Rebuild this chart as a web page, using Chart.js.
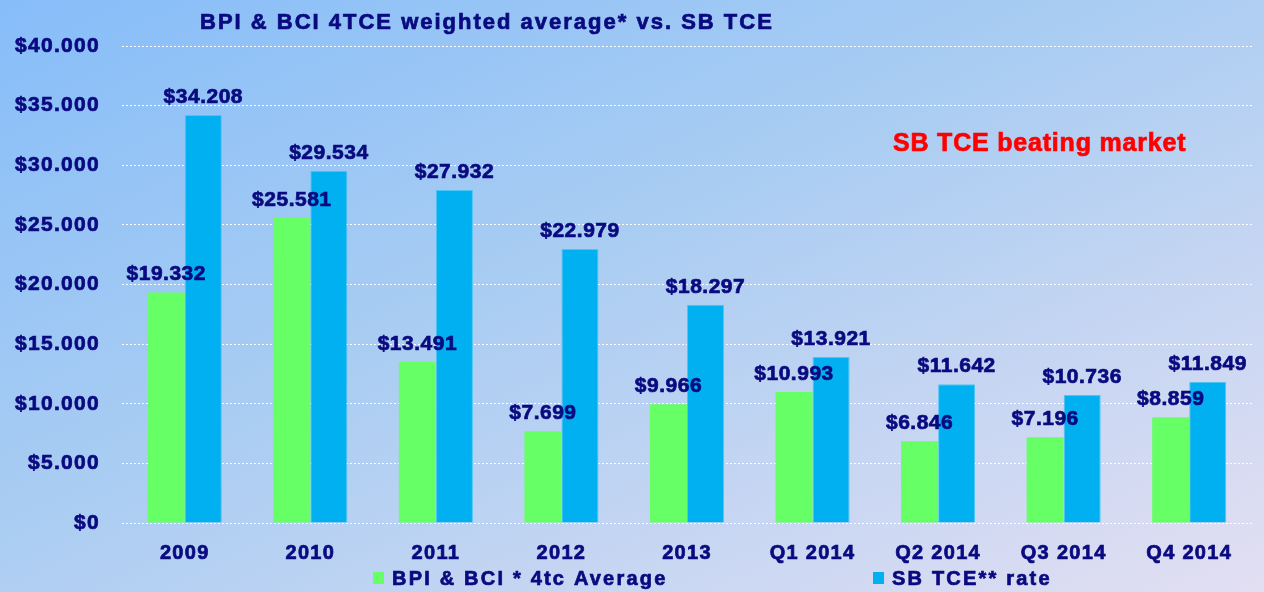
<!DOCTYPE html>
<html>
<head>
<meta charset="utf-8">
<title>BPI & BCI 4TCE vs SB TCE</title>
<script src="https://cdn.jsdelivr.net/npm/chart.js@4"></script>
<style>
    body {
        margin: 0;
        background: linear-gradient(to bottom right, #86bdf9 0%, #aacdf2 45%, #e3dff2 100%);
    }
    #wrap {
        width: 1264px;
        height: 592px;
    }
</style>
</head>
<body>
<div id="wrap"><canvas id="diagramOne"></canvas></div>
<script>
"use strict"

// data from the picture
let years = ["2009", "2010", "2011", "2012", "2013", "Q1 2014", "Q2 2014", "Q3 2014", "Q4 2014"];
let bpiBci = [19332, 25581, 13491, 7699, 9966, 10993, 6846, 7196, 8859];
let sbTce = [34208, 29534, 27932, 22979, 18297, 13921, 11642, 10736, 11849];
let seriesNames = ["BPI & BCI * 4tc Average", "SB TCE** rate"];
let titleText = "BPI & BCI 4TCE weighted average* vs. SB TCE";
let noteText = "SB TCE beating market";

let navy = "#0a0a80";
let font = "Arial, 'Liberation Sans', sans-serif";

function money(v) { // $19.332
    return "$" + v.toLocaleString("de-DE");
}

// draws text a bit heavier (thin outline in same colour)
function boldText(ctx, text, x, y, color) {
    ctx.fillStyle = color;
    ctx.strokeStyle = color;
    ctx.lineWidth = 0.7;
    ctx.fillText(text, x, y);
    ctx.strokeText(text, x, y);
}

// letter spacing for axis text (canvas resets it on resize)
let spacingPlugin = {
    id: "spacing",
    beforeUpdate(chart) { chart.ctx.letterSpacing = "1.3px"; },
    beforeDraw(chart) { chart.ctx.letterSpacing = "1.3px"; }
};

// value labels above bars
let labelPlugin = {
    id: "labels",
    afterDatasetsDraw(chart) {
        let ctx = chart.ctx;
        ctx.save();
        ctx.font = "bold 21px " + font;
        ctx.letterSpacing = "0.5px";
        ctx.textAlign = "center";
        ctx.textBaseline = "alphabetic";
        chart.data.datasets.forEach((ds, i) => {
            chart.getDatasetMeta(i).data.forEach((bar, j) => {
                boldText(ctx, money(ds.data[j]), bar.x, bar.y - 12, navy);
            });
        });
        ctx.restore();
    }
};

// title, red note and legend
let textPlugin = {
    id: "texts",
    afterDraw(chart) {
        let ctx = chart.ctx;
        ctx.save();
        ctx.textAlign = "left";
        ctx.textBaseline = "alphabetic";

        ctx.font = "bold 22px " + font;
        ctx.letterSpacing = "2px";
        boldText(ctx, titleText, 200, 29, navy);

        ctx.font = "bold 25px " + font;
        ctx.letterSpacing = "0.8px";
        boldText(ctx, noteText, 893, 151, "#ff0000");

        // legend
        let legendX = [373, 873];
        ctx.font = "bold 20px " + font;
        ctx.letterSpacing = "2.2px";
        chart.data.datasets.forEach((ds, i) => {
            ctx.fillStyle = ds.backgroundColor;
            ctx.fillRect(legendX[i], 572, 11, 12);
            boldText(ctx, ds.label, legendX[i] + 19, 585, navy);
        });
        ctx.restore();
    }
};

new Chart(document.getElementById("diagramOne"), {
    type: "bar",
    data: {
        labels: years,
        datasets: [{
            label: seriesNames[0],
            data: bpiBci,
            backgroundColor: "#66ff66",
            borderWidth: 0
        }, {
            label: seriesNames[1],
            data: sbTce,
            backgroundColor: "#00b0f0",
            borderColor: "#4cc6f4",
            borderWidth: 1
        }]
    },
    options: {
        responsive: true,
        maintainAspectRatio: false,
        animation: false,
        layout: {
            padding: { top: 46, right: 12, bottom: 0, left: 0 }
        },
        datasets: {
            bar: {
                categoryPercentage: 0.59,
                barPercentage: 1
            }
        },
        plugins: {
            legend: { display: false },
            title: { display: false },
            tooltip: { enabled: false }
        },
        scales: {
            x: {
                grid: { display: false },
                border: { display: false },
                ticks: {
                    color: navy,
                    textStrokeColor: navy,
                    textStrokeWidth: 0.7,
                    padding: 10,
                    maxRotation: 0,
                    font: { family: font, size: 20, weight: "bold" }
                },
                afterFit(scale) { scale.height = 69; }
            },
            y: {
                min: 0,
                max: 40000,
                ticks: {
                    stepSize: 5000,
                    color: navy,
                    textStrokeColor: navy,
                    textStrokeWidth: 0.7,
                    padding: 22,
                    font: { family: font, size: 21, weight: "bold" },
                    callback: v => money(v)
                },
                grid: {
                    color: "#ffffff",
                    lineWidth: 1,
                    drawTicks: false
                },
                border: { display: false, dash: [2, 2] },
                afterFit(scale) { scale.width = 122; }
            }
        }
    },
    plugins: [spacingPlugin, labelPlugin, textPlugin]
});
</script>
</body>
</html>
